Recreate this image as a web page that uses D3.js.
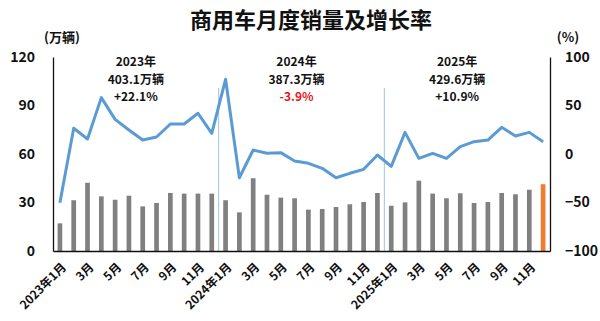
<!DOCTYPE html>
<html><head><meta charset="utf-8">
<script src="https://cdn.jsdelivr.net/npm/d3@7"></script>
<style>
body{margin:0;background:#fff;}
svg text{font-family:"Noto Sans CJK SC","Microsoft YaHei",sans-serif;}
</style></head>
<body><svg id="c" width="600" height="321"></svg>
<script>
const months = ["2023年1月","2月","3月","4月","5月","6月","7月","8月","9月","10月","11月","12月",
"2024年1月","2月","3月","4月","5月","6月","7月","8月","9月","10月","11月","12月",
"2025年1月","2月","3月","4月","5月","6月","7月","8月","9月","10月","11月","12月"];
const sales = [17.1,31.4,42.2,33.8,31.7,34.2,27.6,29.7,35.9,35.5,35.5,35.5,
31.4,23.9,45.0,34.8,33.0,32.6,25.6,26.0,27.2,28.9,30.3,35.9,
28.0,30.1,43.5,35.5,32.6,35.7,29.7,30.3,35.9,35.1,37.9,41.3];
const growth = [-50.2,26.5,15.5,58.1,35.7,24.7,14.4,17.5,30.9,30.9,42.0,21.3,
77.0,-24.5,4.1,0.7,1.4,-7.2,-9.6,-14.8,-24.5,-19.9,-15.8,-1.0,
-12.7,22.3,-4.5,0.7,-4.5,7.6,12.7,14.4,27.5,18.6,22.3,12.7];
const leftTicks = [0,30,60,90,120];
const rightTicks = [-100,-50,0,50,100];
const yearNotes = [
  {first:"2023年", second:"403.1万辆", third:"+22.1%", from:0, to:11},
  {first:"2024年", second:"387.3万辆", third:"-3.9%", from:12, to:23},
  {first:"2025年", second:"429.6万辆", third:"+10.9%", from:24, to:35}
];

const svg = d3.select("#c");
const L=53, R=550, T=57, B=251;
const keys = months.map((m,i)=>i);
const x = d3.scaleBand().domain(keys).range([L,R]).paddingInner(0.66).paddingOuter(0.33);
const y = d3.scaleLinear().domain([0,120]).range([B,T]);
const yr = d3.scaleLinear().domain([-100,100]).range([B,T]);
const cx = i => x(i)+x.bandwidth()/2;

// title
svg.append("text").attr("x",311).attr("y",28).attr("text-anchor","middle")
  .attr("font-size",22).attr("font-weight","bold").attr("fill","#111").text("商用车月度销量及增长率");
svg.append("text").attr("x",62).attr("y",42).attr("text-anchor","middle")
  .attr("font-size",13).attr("font-weight","bold").attr("fill","#111").text("(万辆)");
svg.append("text").attr("x",568).attr("y",42).attr("text-anchor","middle")
  .attr("font-size",13).attr("font-weight","bold").attr("fill","#111").text("(%)");

// separators
[12,24].forEach(i=>{
  const sx = x(i) - (x.step()-x.bandwidth())/2;
  svg.append("line").attr("x1",sx).attr("x2",sx).attr("y1",88).attr("y2",B)
    .attr("stroke","#9dc3e6").attr("stroke-width",1);
});

// bars
svg.append("g").selectAll("rect").data(sales).join("rect")
  .attr("x",(d,i)=>x(i)).attr("width",x.bandwidth())
  .attr("y",d=>y(d)).attr("height",d=>B-y(d))
  .attr("fill",(d,i)=>i===sales.length-1?"#ed7d31":"#808080");

// line
const line = d3.line().x((d,i)=>cx(i)).y(d=>yr(d));
svg.append("path").datum(growth).attr("d",line).attr("fill","none")
  .attr("stroke","#5b9bd5").attr("stroke-width",3).attr("stroke-linejoin","round");

// axes
const gl = svg.append("g").attr("transform",`translate(${L},0)`)
  .call(d3.axisLeft(y).tickValues(leftTicks).tickSize(0).tickPadding(18));
const gr = svg.append("g").attr("transform",`translate(${R},0)`)
  .call(d3.axisRight(yr).tickValues(rightTicks).tickSize(0).tickPadding(15));
[gl,gr].forEach(g=>{
  g.select(".domain").attr("stroke","#111").attr("stroke-width",1.3);
  g.selectAll("text").attr("font-size",14).attr("font-weight","bold").attr("fill","#111");
});
const gb = svg.append("g").attr("transform",`translate(0,${B})`)
  .call(d3.axisBottom(x).tickValues(keys.filter(i=>i%2===0)).tickFormat(i=>months[i]).tickSize(0));
gb.select(".domain").attr("stroke","#111").attr("stroke-width",1.3);
gb.selectAll("text").attr("font-size",12).attr("font-weight","bold").attr("fill","#111")
  .attr("text-anchor","end").attr("dy",0).attr("y",0)
  .attr("transform","translate(7,17) rotate(-45)");

// notes
yearNotes.forEach((n,k)=>{
  const mx = (cx(n.from)+cx(n.to))/2 + [0,-5,-10][k];
  const t = svg.append("text").attr("x",mx).attr("y",66).attr("font-size",12)
    .attr("font-weight","bold").attr("text-anchor","middle").attr("fill","#111");
  t.append("tspan").attr("x",mx).attr("dy",0).text(n.first);
  t.append("tspan").attr("x",mx).attr("dy",17.5).text(n.second);
  t.append("tspan").attr("x",mx).attr("dy",17.5)
    .attr("fill",n.third.startsWith("-")?"#e8141b":"#111").text(n.third);
});
</script></body></html>
